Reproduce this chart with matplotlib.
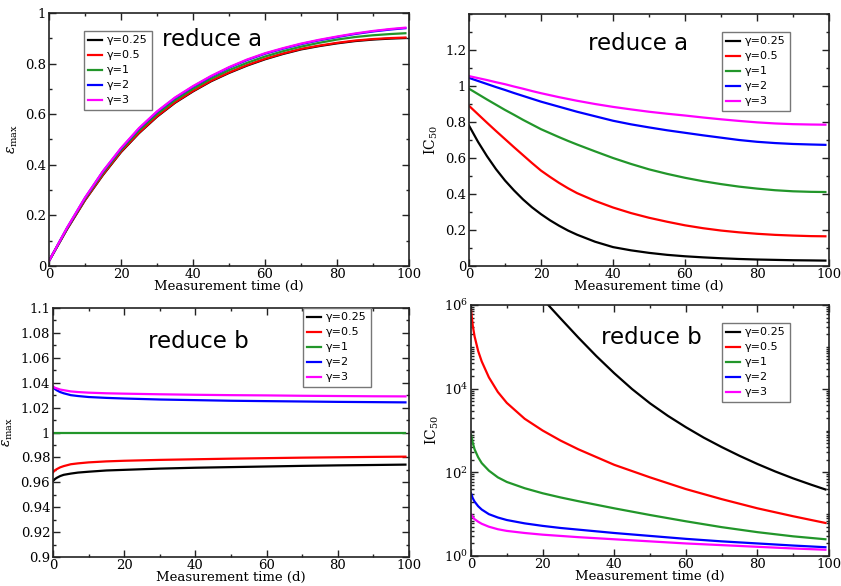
import numpy as np
import matplotlib
matplotlib.use("Agg")
import matplotlib.pyplot as plt
from matplotlib.ticker import MultipleLocator, LogLocator, FixedLocator, NullFormatter, FormatStrFormatter

plt.rcParams['mathtext.fontset'] = 'dejavuserif'

labels = ["γ=0.25", "γ=0.5", "γ=1", "γ=2", "γ=3"]
colors = ["#000000", "#ff0000", "#22962a", "#0000ff", "#ff00ff"]

# ---------- top-left: eps_max, reduce a ----------
t_a = [0, 5, 10, 15, 20, 25, 30, 35, 40, 45, 50, 55, 60, 65, 70, 75, 80, 85, 90, 95, 99]
tl_g025 = [0.02, 0.145, 0.26, 0.36, 0.45, 0.525, 0.59, 0.645, 0.69, 0.73, 0.763, 0.792, 0.817, 0.838, 0.856, 0.869, 0.88, 0.889, 0.895, 0.899, 0.901]
tl_g05 = [0.02, 0.146, 0.261, 0.362, 0.452, 0.527, 0.592, 0.647, 0.692, 0.732, 0.765, 0.794, 0.819, 0.84, 0.858, 0.871, 0.882, 0.891, 0.897, 0.901, 0.903]
tl_g1 = [0.02, 0.148, 0.265, 0.368, 0.458, 0.535, 0.6, 0.655, 0.70, 0.74, 0.774, 0.803, 0.828, 0.849, 0.867, 0.882, 0.895, 0.905, 0.912, 0.917, 0.92]
tl_g2 = [0.02, 0.15, 0.269, 0.374, 0.464, 0.543, 0.609, 0.664, 0.709, 0.749, 0.784, 0.814, 0.839, 0.859, 0.877, 0.892, 0.905, 0.917, 0.927, 0.935, 0.94]
tl_g3 = [0.02, 0.151, 0.27, 0.375, 0.466, 0.545, 0.611, 0.666, 0.711, 0.751, 0.786, 0.816, 0.841, 0.861, 0.879, 0.894, 0.907, 0.919, 0.929, 0.937, 0.942]

# ---------- top-right: IC50, reduce a ----------
t_a2 = [0, 2.5, 5, 7.5, 10, 12.5, 15, 17.5, 20, 22.5, 25, 27.5, 30, 35, 40, 45, 50, 55, 60, 65, 70, 75, 80, 85, 90, 95, 99]
tr_g025 = [0.78, 0.69, 0.61, 0.538, 0.475, 0.42, 0.37, 0.326, 0.288, 0.254, 0.224, 0.197, 0.174, 0.135, 0.105, 0.087, 0.073, 0.062, 0.054, 0.048, 0.043, 0.039, 0.036, 0.034, 0.032, 0.031, 0.03]
tr_g05 = [0.89, 0.843, 0.796, 0.75, 0.705, 0.66, 0.616, 0.572, 0.53, 0.495, 0.462, 0.432, 0.405, 0.362, 0.325, 0.294, 0.268, 0.246, 0.226, 0.21, 0.197, 0.187, 0.179, 0.173, 0.169, 0.166, 0.165]
tr_g1 = [0.985, 0.955, 0.925, 0.896, 0.867, 0.84, 0.812, 0.786, 0.76, 0.738, 0.716, 0.695, 0.675, 0.637, 0.6, 0.567, 0.537, 0.512, 0.49, 0.471, 0.455, 0.441, 0.43, 0.421, 0.415, 0.412, 0.411]
tr_g2 = [1.045, 1.028, 1.011, 0.994, 0.978, 0.961, 0.945, 0.929, 0.913, 0.899, 0.885, 0.871, 0.857, 0.832, 0.807, 0.787, 0.77, 0.754, 0.74, 0.726, 0.713, 0.70, 0.69, 0.683, 0.678, 0.675, 0.673]
tr_g3 = [1.055, 1.044, 1.033, 1.021, 1.01, 0.997, 0.985, 0.972, 0.96, 0.949, 0.938, 0.928, 0.918, 0.9, 0.884, 0.87, 0.857, 0.846, 0.836, 0.825, 0.815, 0.806, 0.798, 0.792, 0.788, 0.786, 0.785]

# ---------- bottom-left: eps_max, reduce b ----------
t_b = [0, 0.5, 1, 2, 3, 5, 7, 10, 15, 20, 30, 40, 50, 60, 70, 80, 90, 99]
bl_g025 = [0.961, 0.9625, 0.9635, 0.965, 0.966, 0.967, 0.9678, 0.9685, 0.9695, 0.970, 0.9710, 0.9717, 0.9722, 0.9727, 0.9732, 0.9736, 0.9739, 0.9742]
bl_g05 = [0.968, 0.9695, 0.9705, 0.972, 0.973, 0.9745, 0.9752, 0.976, 0.9768, 0.9773, 0.978, 0.9785, 0.9790, 0.9794, 0.9798, 0.9801, 0.9804, 0.9806]
bl_g1 = [1.0] * 18
bl_g2 = [1.0365, 1.035, 1.034, 1.0325, 1.0315, 1.030, 1.0293, 1.0285, 1.0278, 1.0273, 1.0265, 1.026, 1.0255, 1.0252, 1.0249, 1.0246, 1.0244, 1.0242]
bl_g3 = [1.037, 1.036, 1.0355, 1.0345, 1.034, 1.033, 1.0325, 1.032, 1.0315, 1.0312, 1.0307, 1.0303, 1.0300, 1.0298, 1.0295, 1.0293, 1.0291, 1.029]

# ---------- bottom-right: IC50 (log10 values), reduce b ----------
t_c = [0, 0.5, 1, 2, 3, 5, 7.5, 10, 15, 20, 25, 30, 40, 50, 60, 70, 80, 90, 99]
t_c_black = [20, 22, 25, 30, 35, 40, 45, 50, 55, 60, 65, 70, 75, 80, 85, 90, 95, 99]
br_g025_log = [6.15, 5.96, 5.68, 5.22, 4.78, 4.37, 3.99, 3.65, 3.35, 3.08, 2.83, 2.605, 2.395, 2.2, 2.02, 1.855, 1.705, 1.59]
br_g05_log = [5.88, 5.5, 5.25, 4.9, 4.65, 4.27, 3.92, 3.66, 3.28, 3.0, 2.76, 2.55, 2.18, 1.88, 1.6, 1.36, 1.14, 0.95, 0.79]
br_g1_log = [2.9, 2.7, 2.55, 2.36, 2.22, 2.04, 1.88, 1.77, 1.62, 1.5, 1.4, 1.31, 1.14, 0.98, 0.83, 0.69, 0.57, 0.47, 0.4]
br_g2_log = [1.5, 1.38, 1.3, 1.19, 1.11, 1.0, 0.92, 0.86, 0.78, 0.72, 0.67, 0.63, 0.55, 0.48, 0.41, 0.35, 0.3, 0.25, 0.21]
br_g3_log = [1.0, 0.93, 0.88, 0.82, 0.77, 0.7, 0.64, 0.6, 0.55, 0.51, 0.48, 0.45, 0.4, 0.35, 0.3, 0.26, 0.22, 0.18, 0.15]

W, H = 841, 586
fig = plt.figure(figsize=(W / 100, H / 100), dpi=100)


def ax_at(l, r, t, b):
    return fig.add_axes([l / W, 1 - b / H, (r - l) / W, (b - t) / H])


def style(ax):
    for s in ax.spines.values():
        s.set_linewidth(1.2)
        s.set_color('#222222')
    ax.tick_params(which='both', direction='in', top=True, right=True,
                   labelfontfamily='DejaVu Serif', labelsize=9.5, width=1, color='#222222')
    ax.tick_params(which='major', length=5)
    ax.tick_params(which='minor', length=2.5)
    ax.tick_params(axis='x', pad=1.5)
    ax.tick_params(axis='y', pad=2)
    ax.set_xlim(0, 100)
    ax.xaxis.set_major_locator(MultipleLocator(20))
    ax.xaxis.set_minor_locator(MultipleLocator(10))
    ax.set_xlabel("Measurement time (d)", fontfamily='DejaVu Serif', fontsize=9.5, labelpad=-1)


def leg(ax, x, y):
    lg = ax.legend(loc='upper left', bbox_to_anchor=(x / W, 1 - y / H), bbox_transform=fig.transFigure,
                   borderaxespad=0, fancybox=False, framealpha=1, edgecolor='#777777',
                   prop={'family': 'DejaVu Sans', 'size': 8}, handlelength=1.2, handletextpad=0.45,
                   labelspacing=0.45, borderpad=0.4)
    lg.get_frame().set_linewidth(1.0)


lw = 1.6

# top-left
ax1 = ax_at(49, 409, 13, 266)
for ys, c, lb in zip([tl_g025, tl_g05, tl_g1, tl_g2, tl_g3], colors, labels):
    ax1.plot(t_a, ys, color=c, lw=lw, label=lb)
style(ax1)
ax1.set_ylim(0, 1)
ax1.yaxis.set_major_locator(MultipleLocator(0.2))
ax1.yaxis.set_minor_locator(MultipleLocator(0.1))
ax1.yaxis.set_major_formatter(FormatStrFormatter('%g'))
ax1.set_ylabel(r'$\epsilon_{\rm max}$', fontsize=10, labelpad=4)
leg(ax1, 84, 31)
fig.text(212 / W, 1 - 40 / H, "reduce a", ha='center', va='center', fontsize=16.5, family='DejaVu Sans')

# top-right
ax2 = ax_at(469, 829, 14, 266)
for ys, c, lb in zip([tr_g025, tr_g05, tr_g1, tr_g2, tr_g3], colors, labels):
    ax2.plot(t_a2, ys, color=c, lw=lw, label=lb)
style(ax2)
ax2.set_ylim(0, 1.4)
ax2.yaxis.set_major_locator(FixedLocator([0, 0.2, 0.4, 0.6, 0.8, 1.0, 1.2]))
ax2.yaxis.set_minor_locator(MultipleLocator(0.1))
ax2.yaxis.set_major_formatter(FormatStrFormatter('%g'))
ax2.set_ylabel(r'IC$_{50}$', fontfamily='DejaVu Serif', fontsize=10, labelpad=4)
leg(ax2, 722, 32)
fig.text(638 / W, 1 - 43 / H, "reduce a", ha='center', va='center', fontsize=16.5, family='DejaVu Sans')

# bottom-left
ax3 = ax_at(53, 409, 308, 557)
for ys, c, lb in zip([bl_g025, bl_g05, bl_g1, bl_g2, bl_g3], colors, labels):
    ax3.plot(t_b, ys, color=c, lw=lw, label=lb)
style(ax3)
ax3.set_ylim(0.9, 1.1)
ax3.yaxis.set_major_locator(MultipleLocator(0.02))
ax3.yaxis.set_minor_locator(MultipleLocator(0.01))
ax3.yaxis.set_major_formatter(FormatStrFormatter('%g'))
ax3.set_ylabel(r'$\epsilon_{\rm max}$', fontsize=10, labelpad=4)
leg(ax3, 303, 308)
fig.text(198 / W, 1 - 342 / H, "reduce b", ha='center', va='center', fontsize=16.5, family='DejaVu Sans')

# bottom-right
ax4 = ax_at(471, 829, 305, 556)
ax4.plot(t_c_black, 10 ** np.array(br_g025_log), color=colors[0], lw=lw, label=labels[0])
for ys, c, lb in zip([br_g05_log, br_g1_log, br_g2_log, br_g3_log], colors[1:], labels[1:]):
    ax4.plot(t_c, 10 ** np.array(ys), color=c, lw=lw, label=lb)
ax4.set_yscale('log')
style(ax4)
ax4.set_ylim(1, 1e6)
ax4.yaxis.set_major_locator(FixedLocator([1, 1e2, 1e4, 1e6]))
ax4.yaxis.set_minor_locator(LogLocator(base=10, subs=np.arange(1, 10), numticks=50))
ax4.yaxis.set_minor_formatter(NullFormatter())
ax4.set_ylabel(r'IC$_{50}$', fontfamily='DejaVu Serif', fontsize=10, labelpad=2)
leg(ax4, 722, 323)
fig.text(651 / W, 1 - 338 / H, "reduce b", ha='center', va='center', fontsize=16.5, family='DejaVu Sans')

fig.savefig("out.png", dpi=100)
